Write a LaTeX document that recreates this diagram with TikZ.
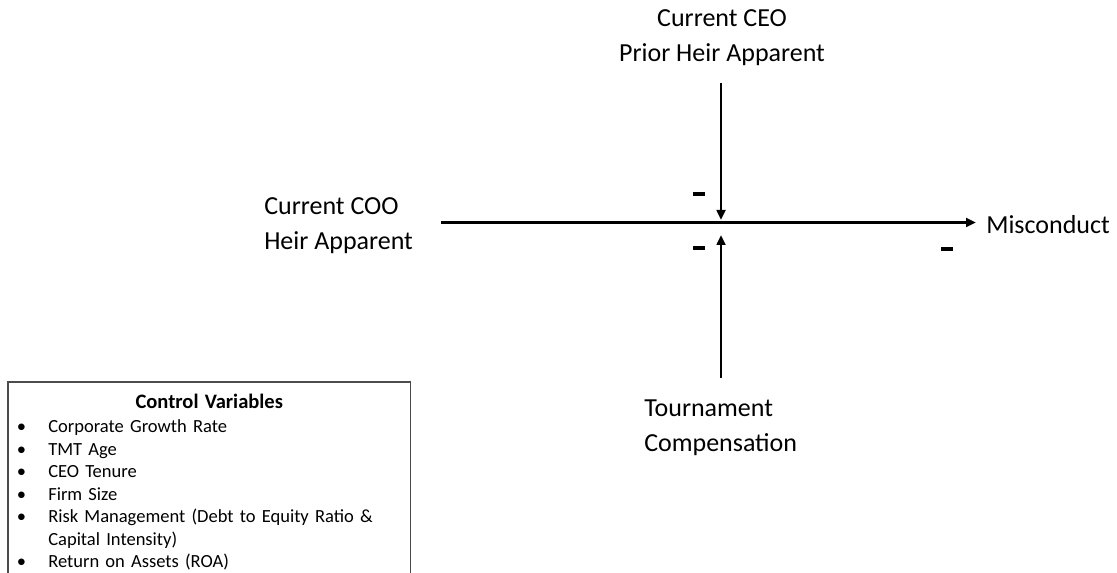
\documentclass[tikz,border=0pt]{standalone}
\usepackage{fontspec}
\setmainfont{Carlito}
\usetikzlibrary{arrows.meta,positioning}

\newcommand{\ctrlitem}[1]{\makebox[30pt][l]{\hspace{6.5pt}\textbullet}#1}
\newcommand{\ctrltitle}{\fontsize{15.4}{16.9}\selectfont\bfseries}
\newcommand{\minussign}{\rule{9pt}{2.3pt}}

\tikzset{
  link/.style={line width=1.9pt, -{Triangle[length=7.5pt,width=6.5pt]}},
  vartext/.style={inner sep=0pt, align=left, font=\fontsize{19.5}{26.25}\selectfont},
  sign/.style={inner sep=0pt},
  ctrlbox/.style={inner xsep=0pt, inner ysep=8.5pt, text width=301.5pt, align=left,
    font=\fontsize{13.9}{16.9}\selectfont},
  ctrlframe/.style={draw=black!70, line width=0.9pt}
}

\begin{document}
\begin{tikzpicture}[x=0.75pt, y=-0.75pt]
  \useasboundingbox (0,0) rectangle (1117,573);

  % variables
  \node[vartext, align=center] (ceo) at (722,38) {Current CEO\\Prior Heir Apparent};
  \node[vartext, anchor=west] (coo) at (264,226) {Current COO\\Heir Apparent};
  \node[vartext, anchor=west] (mis) at (986,225) {Misconduct};
  \node[vartext, anchor=west] (tour) at (644,428) {Tournament\\Compensation};

  \coordinate (hub) at (721,222.5);
  \coordinate (hubtop) at (721,220);
  \coordinate (hubbot) at (721,235);

  % paths
  \draw[link, shorten <=21pt, shorten >=7.5pt] (coo.east |- hub) -- (mis.west |- hub);
  \draw[link, shorten <=12.75pt] (hubtop |- ceo.south) -- (hubtop);
  \draw[link, shorten <=16.5pt] (hubbot |- tour.north) -- (hubbot);

  % signs
  \node[sign] (s1) at (699,194) {\minussign};
  \node[sign] (s2) at (699,248) {\minussign};
  \node[sign] (s3) at (947,249) {\minussign};

  % control variables
  \node[ctrlbox, anchor=north west] (ctrl) at (8,382) {%
    \makebox[\linewidth]{\ctrltitle Control Variables}\\[1.5pt]
    \ctrlitem{Corporate Growth Rate}\\
    \ctrlitem{TMT Age}\\
    \ctrlitem{CEO Tenure}\\
    \ctrlitem{Firm Size}\\
    \ctrlitem{Risk Management (Debt to Equity Ratio \&}\\
    \hspace*{30pt}Capital Intensity)\\
    \ctrlitem{Return on Assets (ROA)}};
  \draw[ctrlframe] (ctrl.north west |- 0,600) |- (ctrl.north east) -- (ctrl.north east |- 0,600);
\end{tikzpicture}
\end{document}
